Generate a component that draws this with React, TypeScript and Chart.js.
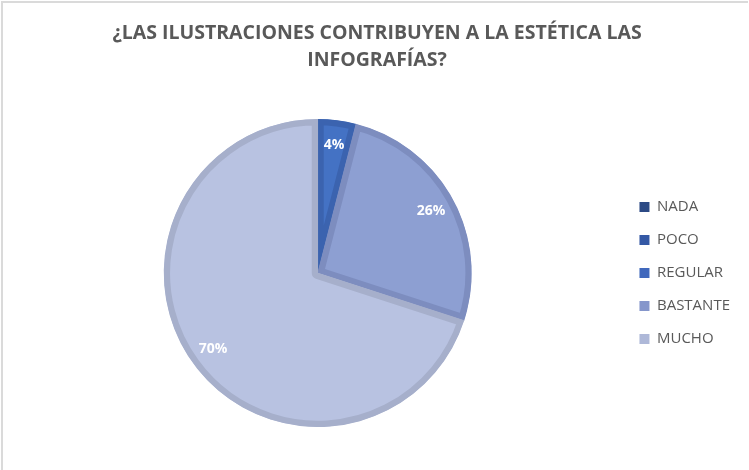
import React, { useEffect, useRef } from "react";
import { Chart, registerables } from "chart.js";

Chart.register(...registerables);

const TITLE_LINES = ["¿LAS ILUSTRACIONES CONTRIBUYEN A LA ESTÉTICA LAS", "INFOGRAFÍAS?"];
const CATEGORIES = ["NADA", "POCO", "REGULAR", "BASTANTE", "MUCHO"];
const VALUES = [0, 0, 4, 26, 70];
const FILL_COLORS = ["#2C4A85", "#3459A5", "#4472C4", "#8D9FD2", "#B8C2E1"];
const BORDER_COLORS = ["#263F73", "#2D4E92", "#3B63AF", "#7D8DBF", "#A6AFCB"];
const LEGEND_COLORS = ["#2C4A85", "#3459A5", "#4068BC", "#8596CB", "#AEB8D8"];

const pieLabels = {
  id: "pieLabels",
  afterDatasetsDraw(chart: any) {
    const { ctx } = chart;
    const meta = chart.getDatasetMeta(0);
    const data = chart.data.datasets[0].data as number[];
    const total = data.reduce((a, b) => a + b, 0);
    ctx.save();
    ctx.fillStyle = "#FFFFFF";
    ctx.font = "bold 14px 'Open Sans'";
    ctx.textAlign = "center";
    ctx.textBaseline = "middle";
    meta.data.forEach((arc: any, i: number) => {
      const v = data[i];
      if (!v) return;
      const mid = (arc.startAngle + arc.endAngle) / 2;
      const r = arc.outerRadius * 0.84;
      const x = arc.x + Math.cos(mid) * r;
      const y = arc.y + Math.sin(mid) * r;
      ctx.fillText(Math.round((v / total) * 100) + "%", x, y);
    });
    ctx.restore();
  },
};

export default function App() {
  const ref = useRef<HTMLCanvasElement>(null);
  useEffect(() => {
    if (!ref.current) return;
    const chart = new Chart(ref.current, {
      type: "pie",
      data: {
        labels: CATEGORIES,
        datasets: [
          {
            data: VALUES,
            backgroundColor: FILL_COLORS,
            borderColor: BORDER_COLORS,
            borderWidth: 6,
            borderAlign: "inner",
            hoverOffset: 0,
            offset: 0,
          } as any,
        ],
      },
      options: {
        responsive: false,
        animation: false,
        events: [],
        layout: { padding: { left: 14, right: 9, top: 0, bottom: 43 } },
        plugins: {
          title: {
            display: true,
            text: TITLE_LINES,
            color: "#595959",
            font: { family: "'Open Sans'", size: 19.5, weight: "bold", lineHeight: 1.385 },
            padding: { top: 20, bottom: 45 },
          },
          legend: {
            display: true,
            position: "right",
            align: "center",
            fullSize: false,
            labels: {
              color: "#595959",
              font: { family: "'Open Sans'", size: 15 },
              boxWidth: 10,
              boxHeight: 10,
              padding: 18,
              generateLabels: (chart: any) =>
                CATEGORIES.map((c, i) => ({
                  text: c,
                  fillStyle: LEGEND_COLORS[i],
                  strokeStyle: LEGEND_COLORS[i],
                  lineWidth: 0,
                  hidden: false,
                  index: i,
                  fontColor: "#595959",
                })),
            },
          },
          tooltip: { enabled: false },
        },
      } as any,
      plugins: [pieLabels],
    });
    return () => chart.destroy();
  }, []);
  return (
    <div style={{ position: "absolute", left: 0, top: 0, width: 749, height: 470, background: "#fff" }}>
      <canvas ref={ref} width={749} height={470} style={{ position: "absolute", left: 0, top: 0 }} />
      <div
        style={{
          position: "absolute",
          left: 1,
          top: 1,
          width: 747,
          height: 469,
          borderTop: "2px solid #DADADA",
          borderLeft: "2px solid #DADADA",
          boxSizing: "border-box",
          pointerEvents: "none",
        }}
      />
    </div>
  );
}
